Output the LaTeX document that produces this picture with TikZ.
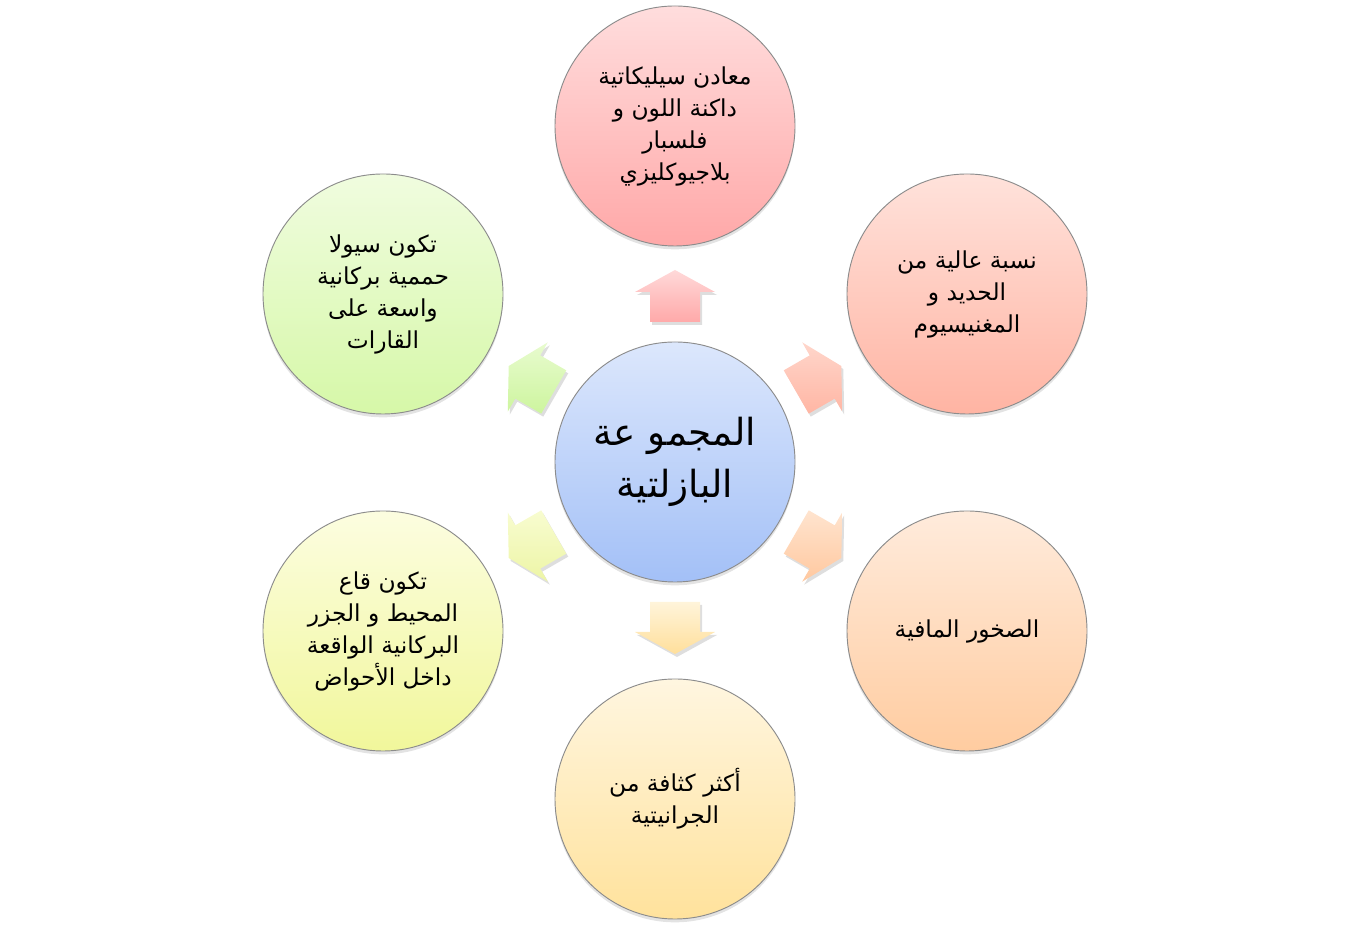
\documentclass[tikz,border=0pt]{standalone}
\usepackage{fontspec}
\setmainfont{DejaVu Sans}
\newfontfamily\arabicfont[Script=Arabic]{DejaVu Sans}
\TeXXeTstate=1
\usetikzlibrary{shadows,calc}
\newcommand\arl[1]{\beginR #1\endR}
\definecolor{bordc}{HTML}{8C8C8C}
\tikzset{
  bubble/.style={circle, draw=bordc, line width=0.7pt, minimum size=180pt, inner sep=0pt,
    align=center, font=\arabicfont\fontsize{17.5}{24}\selectfont,
    drop shadow={opacity=0.22, shadow xshift=0pt, shadow yshift=-2.5pt}},
  bigbubble/.style={bubble, font=\arabicfont\fontsize{28}{39}\selectfont},
  arrowshadow/.style={fill=black, opacity=0.13},
}
\begin{document}
\begin{tikzpicture}[x=0.75pt,y=0.75pt]
\useasboundingbox (0,0) rectangle (1350,931);
\coordinate (o) at (675,469);
\coordinate (os) at (677,466);
% block arrows
\foreach \ang/\ca/\cb in {90/FFD9D9/FFA9A9, 30/FFD6CB/FFB6A4, -30/FFE4CF/FFC89F, -90/FFF4DA/FFDF9B, -150/F8FCD0/EDF5A6, 150/E8FBCF/CDF59E}{
  \definecolor{arA}{HTML}{\ca}
  \definecolor{arB}{HTML}{\cb}
  \pgfmathsetmacro\pa{\ang+90}
  \fill[arrowshadow] ($(os)+(\ang:140)+(\pa:-25)$) -- ($(os)+(\ang:170)+(\pa:-25)$) -- ($(os)+(\ang:170)+(\pa:-40)$) -- ($(os)+(\ang:192)$) -- ($(os)+(\ang:170)+(\pa:40)$) -- ($(os)+(\ang:170)+(\pa:25)$) -- ($(os)+(\ang:140)+(\pa:25)$) -- cycle;
  \shade[top color=arA, bottom color=arB]
    ($(o)+(\ang:140)+(\pa:-25)$) -- ($(o)+(\ang:170)+(\pa:-25)$) -- ($(o)+(\ang:170)+(\pa:-40)$) -- ($(o)+(\ang:192)$) -- ($(o)+(\ang:170)+(\pa:40)$) -- ($(o)+(\ang:170)+(\pa:25)$) -- ($(o)+(\ang:140)+(\pa:25)$) -- cycle;
}
% circles
\node[bigbubble, top color={rgb,255:red,220;green,231;blue,252}, bottom color={rgb,255:red,163;green,192;blue,247}] (c) at (o)
  {\arl{المجمو عة}\\\arl{البازلتية}};
\node[bubble, top color={rgb,255:red,255;green,221;blue,221}, bottom color={rgb,255:red,255;green,168;blue,168}] (n1) at (675,805)
  {\arl{معادن سيليكاتية}\\\arl{داكنة اللون و}\\\arl{فلسبار}\\\arl{بلاجيوكليزي}};
\node[bubble, top color={rgb,255:red,255;green,226;blue,219}, bottom color={rgb,255:red,255;green,180;blue,163}] (n2) at (967,637)
  {\arl{نسبة عالية من}\\\arl{الحديد و}\\\arl{المغنيسيوم}};
\node[bubble, top color={rgb,255:red,255;green,235;blue,220}, bottom color={rgb,255:red,255;green,204;blue,160}] (n3) at (967,300)
  {\arl{الصخور المافية}};
\node[bubble, top color={rgb,255:red,255;green,246;blue,224}, bottom color={rgb,255:red,255;green,226;blue,156}] (n4) at (675,132)
  {\arl{أكثر كثافة من}\\\arl{الجرانيتية}};
\node[bubble, top color={rgb,255:red,252;green,253;blue,224}, bottom color={rgb,255:red,241;green,247;blue,155}] (n5) at (383,300)
  {\arl{تكون قاع}\\\arl{المحيط و الجزر}\\\arl{البركانية الواقعة}\\\arl{داخل الأحواض}};
\node[bubble, top color={rgb,255:red,240;green,252;blue,223}, bottom color={rgb,255:red,214;green,248;blue,168}] (n6) at (383,637)
  {\arl{تكون سيولا}\\\arl{حممية بركانية}\\\arl{واسعة على}\\\arl{القارات}};
\end{tikzpicture}
\end{document}
